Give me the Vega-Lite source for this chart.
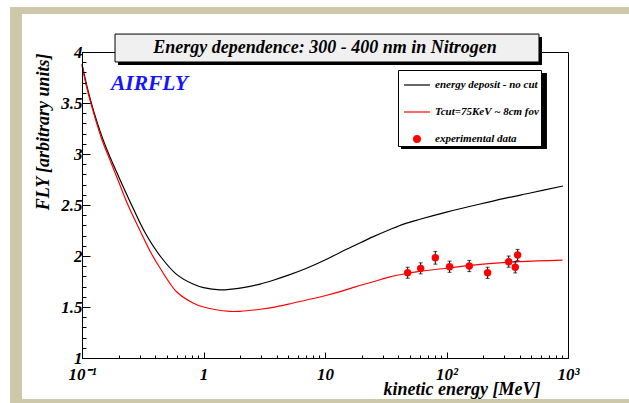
{
  "$schema": "https://vega.github.io/schema/vega-lite/v6.json",
  "width": 486,
  "height": 306,
  "autosize": {"type": "none"},
  "padding": {"left": 82, "top": 52, "right": 61, "bottom": 45},
  "background": "white",
  "datasets": {
    "curves": [
      {"series": "energy deposit - no cut", "E": 0.1, "FLY": 3.88},
      {"series": "energy deposit - no cut", "E": 0.11, "FLY": 3.66},
      {"series": "energy deposit - no cut", "E": 0.124, "FLY": 3.43},
      {"series": "energy deposit - no cut", "E": 0.145, "FLY": 3.18},
      {"series": "energy deposit - no cut", "E": 0.17, "FLY": 2.97},
      {"series": "energy deposit - no cut", "E": 0.2, "FLY": 2.78},
      {"series": "energy deposit - no cut", "E": 0.256, "FLY": 2.5},
      {"series": "energy deposit - no cut", "E": 0.33, "FLY": 2.23},
      {"series": "energy deposit - no cut", "E": 0.44, "FLY": 2.0},
      {"series": "energy deposit - no cut", "E": 0.6, "FLY": 1.82},
      {"series": "energy deposit - no cut", "E": 0.82, "FLY": 1.725},
      {"series": "energy deposit - no cut", "E": 1.0, "FLY": 1.69},
      {"series": "energy deposit - no cut", "E": 1.37, "FLY": 1.668},
      {"series": "energy deposit - no cut", "E": 2.0, "FLY": 1.685},
      {"series": "energy deposit - no cut", "E": 2.92, "FLY": 1.725},
      {"series": "energy deposit - no cut", "E": 3.75, "FLY": 1.762},
      {"series": "energy deposit - no cut", "E": 5.0, "FLY": 1.812},
      {"series": "energy deposit - no cut", "E": 7.06, "FLY": 1.88},
      {"series": "energy deposit - no cut", "E": 10, "FLY": 1.96},
      {"series": "energy deposit - no cut", "E": 13.3, "FLY": 2.035},
      {"series": "energy deposit - no cut", "E": 18, "FLY": 2.11},
      {"series": "energy deposit - no cut", "E": 25, "FLY": 2.19},
      {"series": "energy deposit - no cut", "E": 34.3, "FLY": 2.26},
      {"series": "energy deposit - no cut", "E": 45, "FLY": 2.315},
      {"series": "energy deposit - no cut", "E": 60.5, "FLY": 2.36},
      {"series": "energy deposit - no cut", "E": 100, "FLY": 2.43},
      {"series": "energy deposit - no cut", "E": 189, "FLY": 2.51},
      {"series": "energy deposit - no cut", "E": 300, "FLY": 2.565},
      {"series": "energy deposit - no cut", "E": 500, "FLY": 2.62},
      {"series": "energy deposit - no cut", "E": 910, "FLY": 2.686},
      {"series": "Tcut=75KeV ~ 8cm fov", "E": 0.1, "FLY": 3.87},
      {"series": "Tcut=75KeV ~ 8cm fov", "E": 0.11, "FLY": 3.64},
      {"series": "Tcut=75KeV ~ 8cm fov", "E": 0.124, "FLY": 3.41},
      {"series": "Tcut=75KeV ~ 8cm fov", "E": 0.145, "FLY": 3.15},
      {"series": "Tcut=75KeV ~ 8cm fov", "E": 0.17, "FLY": 2.94},
      {"series": "Tcut=75KeV ~ 8cm fov", "E": 0.2, "FLY": 2.73},
      {"series": "Tcut=75KeV ~ 8cm fov", "E": 0.239, "FLY": 2.5},
      {"series": "Tcut=75KeV ~ 8cm fov", "E": 0.3, "FLY": 2.25},
      {"series": "Tcut=75KeV ~ 8cm fov", "E": 0.374, "FLY": 2.02},
      {"series": "Tcut=75KeV ~ 8cm fov", "E": 0.44, "FLY": 1.88},
      {"series": "Tcut=75KeV ~ 8cm fov", "E": 0.6, "FLY": 1.65},
      {"series": "Tcut=75KeV ~ 8cm fov", "E": 0.82, "FLY": 1.54},
      {"series": "Tcut=75KeV ~ 8cm fov", "E": 1.0, "FLY": 1.5},
      {"series": "Tcut=75KeV ~ 8cm fov", "E": 1.65, "FLY": 1.457},
      {"series": "Tcut=75KeV ~ 8cm fov", "E": 2.0, "FLY": 1.458},
      {"series": "Tcut=75KeV ~ 8cm fov", "E": 2.92, "FLY": 1.478},
      {"series": "Tcut=75KeV ~ 8cm fov", "E": 3.75, "FLY": 1.497},
      {"series": "Tcut=75KeV ~ 8cm fov", "E": 5.0, "FLY": 1.528},
      {"series": "Tcut=75KeV ~ 8cm fov", "E": 7.06, "FLY": 1.569},
      {"series": "Tcut=75KeV ~ 8cm fov", "E": 10, "FLY": 1.61},
      {"series": "Tcut=75KeV ~ 8cm fov", "E": 13.3, "FLY": 1.65},
      {"series": "Tcut=75KeV ~ 8cm fov", "E": 18, "FLY": 1.7},
      {"series": "Tcut=75KeV ~ 8cm fov", "E": 25, "FLY": 1.748},
      {"series": "Tcut=75KeV ~ 8cm fov", "E": 34.3, "FLY": 1.795},
      {"series": "Tcut=75KeV ~ 8cm fov", "E": 47, "FLY": 1.828},
      {"series": "Tcut=75KeV ~ 8cm fov", "E": 60, "FLY": 1.85},
      {"series": "Tcut=75KeV ~ 8cm fov", "E": 100, "FLY": 1.88},
      {"series": "Tcut=75KeV ~ 8cm fov", "E": 200, "FLY": 1.92},
      {"series": "Tcut=75KeV ~ 8cm fov", "E": 400, "FLY": 1.945},
      {"series": "Tcut=75KeV ~ 8cm fov", "E": 900, "FLY": 1.96}
    ],
    "points": [
      {"series": "experimental data", "E": 47.9, "FLY": 1.836, "lo": 1.782, "hi": 1.89},
      {"series": "experimental data", "E": 61.3, "FLY": 1.879, "lo": 1.825, "hi": 1.933},
      {"series": "experimental data", "E": 80.9, "FLY": 1.983, "lo": 1.92, "hi": 2.045},
      {"series": "experimental data", "E": 106, "FLY": 1.895, "lo": 1.84, "hi": 1.95},
      {"series": "experimental data", "E": 154, "FLY": 1.902, "lo": 1.847, "hi": 1.957},
      {"series": "experimental data", "E": 218, "FLY": 1.836, "lo": 1.78, "hi": 1.89},
      {"series": "experimental data", "E": 325, "FLY": 1.944, "lo": 1.89, "hi": 2.0},
      {"series": "experimental data", "E": 368, "FLY": 1.889, "lo": 1.834, "hi": 1.944},
      {"series": "experimental data", "E": 385, "FLY": 2.01, "lo": 1.955, "hi": 2.065}
    ],
    "labels": [
      {"text": "AIRFLY", "E": 0.173, "FLY": 3.69}
    ],
    "heading": [
      {"text": "Energy dependence: 300 - 400 nm in Nitrogen", "E": 10, "FLY": 3.99}
    ]
  },
  "layer": [
    {
      "data": {"values": [{"part": "frame left"}]},
      "mark": {"type": "rect", "fill": "#cec8ab", "clip": false},
      "encoding": {
        "x": {"datum": 0.02555, "type": "quantitative"},
        "x2": {"datum": 0.0321},
        "y": {"datum": 4.441, "type": "quantitative"},
        "y2": {"datum": 0.5588}
      }
    },
    {
      "data": {"values": [{"part": "frame top"}]},
      "mark": {"type": "rect", "fill": "#cec8ab", "clip": false},
      "encoding": {
        "x": {"datum": 0.02555, "type": "quantitative"},
        "x2": {"datum": 3177},
        "y": {"datum": 4.441, "type": "quantitative"},
        "y2": {"datum": 4.3725}
      }
    },
    {
      "data": {"values": [{"part": "frame bottom"}]},
      "mark": {"type": "rect", "fill": "#cec8ab", "clip": false},
      "encoding": {
        "x": {"datum": 0.02555, "type": "quantitative"},
        "x2": {"datum": 3177},
        "y": {"datum": 0.598, "type": "quantitative"},
        "y2": {"datum": 0.5588}
      }
    },
    {
      "data": {"values": [{"part": "title shadow"}]},
      "mark": {"type": "rect", "fill": "black", "clip": false},
      "encoding": {
        "x": {"datum": 0.198, "type": "quantitative"},
        "x2": {"datum": 611},
        "y": {"datum": 4.147, "type": "quantitative"},
        "y2": {"datum": 3.873}
      }
    },
    {
      "data": {"values": [{"part": "title box"}]},
      "mark": {"type": "rect", "fill": "#f0f0f0", "stroke": "black", "strokeWidth": 1, "clip": false},
      "encoding": {
        "x": {"datum": 0.187, "type": "quantitative"},
        "x2": {"datum": 577},
        "y": {"datum": 4.176, "type": "quantitative"},
        "y2": {"datum": 3.902}
      }
    },
    {
      "data": {"values": [{"part": "legend shadow"}]},
      "mark": {"type": "rect", "fill": "black", "clip": false},
      "encoding": {
        "x": {"datum": 42.2, "type": "quantitative"},
        "x2": {"datum": 671},
        "y": {"datum": 3.794, "type": "quantitative"},
        "y2": {"datum": 3.049}
      }
    },
    {
      "data": {"name": "curves"},
      "mark": {"type": "line", "interpolate": "catmull-rom", "strokeWidth": 1.2},
      "encoding": {
        "x": {
          "field": "E",
          "type": "quantitative",
          "title": "kinetic energy [MeV]",
          "scale": {"type": "log", "domain": [0.1, 1000], "nice": false},
          "axis": {
            "zindex": 1,
            "values": [0.1, 0.2, 0.3, 0.4, 0.5, 0.6, 0.7, 0.8, 0.9, 1, 2, 3, 4, 5, 6, 7, 8, 9, 10, 20, 30, 40, 50, 60, 70, 80, 90, 100, 200, 300, 400, 500, 600, 700, 800, 900, 1000],
            "tickCount": 500,
            "labelExpr": "datum.value == 0.1 ? '10⁻¹' : datum.value == 1 ? '1' : datum.value == 10 ? '10' : datum.value == 100 ? '10²' : datum.value == 1000 ? '10³' : ''",
            "tickSize": {"condition": {"test": "datum.value == 0.1 || datum.value == 1 || datum.value == 10 || datum.value == 100 || datum.value == 1000", "value": -6}, "value": -3},
            "labelPadding": 14,
            "labelOverlap": false,
            "labelFlush": false,
            "labelFont": "Liberation Serif",
            "labelFontSize": 17,
            "labelFontStyle": "italic",
            "labelFontWeight": "bold",
            "titleX": 458,
            "titleY": 36,
            "titleAlign": "right",
            "titleAnchor": null,
            "titleBaseline": "alphabetic"
          }
        },
        "y": {
          "field": "FLY",
          "type": "quantitative",
          "title": "FLY [arbitrary units]",
          "scale": {"domain": [1, 4], "nice": false, "zero": false},
          "axis": {
            "zindex": 1,
            "values": [1, 1.1, 1.2, 1.3, 1.4, 1.5, 1.6, 1.7, 1.8, 1.9, 2, 2.1, 2.2, 2.3, 2.4, 2.5, 2.6, 2.7, 2.8, 2.9, 3, 3.1, 3.2, 3.3, 3.4, 3.5, 3.6, 3.7, 3.8, 3.9, 4],
            "tickCount": 500,
            "labelExpr": "abs(datum.value*2 - round(datum.value*2)) < 0.001 ? format(datum.value, '~g') : ''",
            "tickSize": {"condition": {"test": "abs(datum.value*2 - round(datum.value*2)) < 0.001", "value": -8}, "value": -4},
            "labelPadding": 8,
            "labelOverlap": false,
            "labelFlush": false,
            "labelFont": "Liberation Serif",
            "labelFontSize": 17,
            "labelFontStyle": "italic",
            "labelFontWeight": "bold",
            "titleX": -39,
            "titleY": 1,
            "titleAngle": 270,
            "titleAlign": "right",
            "titleAnchor": null,
            "titleBaseline": "middle"
          }
        },
        "color": {
          "field": "series",
          "type": "nominal",
          "scale": {
            "domain": ["energy deposit - no cut", "Tcut=75KeV ~ 8cm fov", "experimental data"],
            "range": ["black", "#ff0000", "#ff0000"]
          },
          "legend": {
            "encode": {
              "symbols": {
                "update": {
                  "stroke": {"scale": "color", "field": "value"},
                  "strokeWidth": {"value": 1.2},
                  "size": {"signal": "datum.value == 'experimental data' ? 45 : 676"}
                }
              }
            }
          }
        }
      }
    },
    {
      "data": {"name": "points"},
      "mark": {"type": "rule", "color": "black", "strokeWidth": 1},
      "encoding": {
        "x": {"field": "E", "type": "quantitative", "title": "kinetic energy [MeV]"},
        "y": {"field": "lo", "type": "quantitative", "title": "FLY [arbitrary units]"},
        "y2": {"field": "hi"}
      }
    },
    {
      "data": {"name": "points"},
      "mark": {"type": "tick", "orient": "horizontal", "color": "black", "size": 4, "thickness": 1},
      "encoding": {
        "x": {"field": "E", "type": "quantitative", "title": "kinetic energy [MeV]"},
        "y": {"field": "lo", "type": "quantitative", "title": "FLY [arbitrary units]"}
      }
    },
    {
      "data": {"name": "points"},
      "mark": {"type": "tick", "orient": "horizontal", "color": "black", "size": 4, "thickness": 1},
      "encoding": {
        "x": {"field": "E", "type": "quantitative", "title": "kinetic energy [MeV]"},
        "y": {"field": "hi", "type": "quantitative", "title": "FLY [arbitrary units]"}
      }
    },
    {
      "data": {"name": "points"},
      "mark": {"type": "point", "filled": true, "size": 55, "opacity": 1},
      "encoding": {
        "x": {"field": "E", "type": "quantitative", "title": "kinetic energy [MeV]"},
        "y": {"field": "FLY", "type": "quantitative", "title": "FLY [arbitrary units]"},
        "color": {"field": "series", "type": "nominal"},
        "shape": {
          "field": "series",
          "type": "nominal",
          "scale": {
            "domain": ["energy deposit - no cut", "Tcut=75KeV ~ 8cm fov", "experimental data"],
            "range": ["stroke", "stroke", "circle"]
          }
        }
      }
    },
    {
      "data": {"name": "labels"},
      "mark": {"type": "text", "align": "left", "baseline": "middle", "font": "Liberation Serif", "fontSize": 21.5, "fontStyle": "italic", "fontWeight": "bold", "color": "#1414ff"},
      "encoding": {
        "x": {"field": "E", "type": "quantitative", "title": "kinetic energy [MeV]"},
        "y": {"field": "FLY", "type": "quantitative", "title": "FLY [arbitrary units]"},
        "text": {"field": "text"}
      }
    },
    {
      "data": {"name": "heading"},
      "mark": {"type": "text", "align": "center", "baseline": "alphabetic", "font": "Liberation Serif", "fontSize": 18, "fontStyle": "italic", "fontWeight": "bold", "color": "black", "clip": false},
      "encoding": {
        "x": {"field": "E", "type": "quantitative", "title": "kinetic energy [MeV]"},
        "y": {"field": "FLY", "type": "quantitative", "title": "FLY [arbitrary units]"},
        "text": {"field": "text"}
      }
    }
  ],
  "config": {
    "view": {"stroke": "black", "strokeWidth": 1},
    "axis": {
      "grid": false,
      "domainColor": "black",
      "domainWidth": 1,
      "tickColor": "black",
      "tickWidth": 1,
      "labelColor": "black",
      "titleFont": "Liberation Serif",
      "titleFontSize": 18,
      "titleFontStyle": "italic",
      "titleFontWeight": "bold",
      "titleColor": "black"
    },
    "legend": {
      "orient": "none",
      "legendX": 316,
      "legendY": 18,
      "title": null,
      "symbolSize": 676,
      "symbolOffset": 4,
      "labelOffset": 4,
      "rowPadding": 8,
      "padding": 1,
      "fillColor": "white",
      "strokeColor": "black",
      "labelFont": "Liberation Serif",
      "labelFontSize": 11,
      "labelFontStyle": "italic",
      "labelFontWeight": "bold",
      "labelColor": "black",
      "labelLimit": 300
    }
  }
}
